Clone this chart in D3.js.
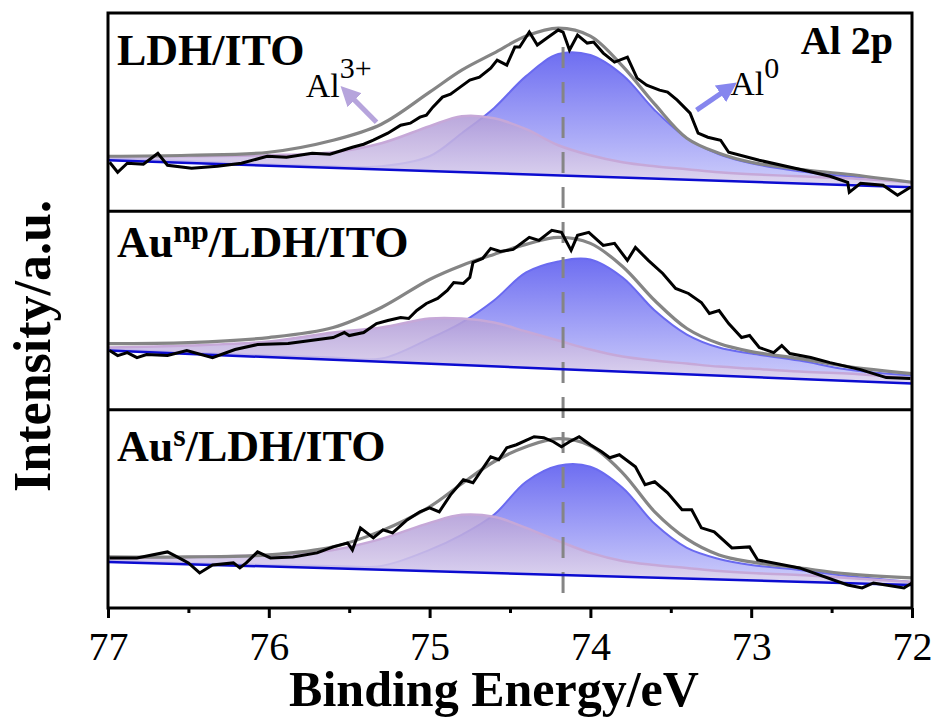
<!DOCTYPE html>
<html>
<head>
<meta charset="utf-8">
<script src="https://cdn.jsdelivr.net/npm/d3@7"></script>
<style>
  body { margin: 0; background: #fff; }
  svg { display: block; font-family: "Liberation Serif", "Times New Roman", serif; }
</style>
</head>
<body>
<svg id="chart" width="937" height="721"></svg>
<script>
var fitEnergy = [77, 76.5, 76, 75.6, 75.3, 75.0, 74.8, 74.6, 74.4, 74.2, 74.0, 73.8, 73.6, 73.4, 73.2, 73.0, 72.7, 72.4, 72];

// LDH/ITO
var rawTop = [[76.99, 49], [76.94, 39], [76.88, 48], [76.78, 47], [76.69, 58], [76.63, 46], [76.48, 43], [76.32, 45],
  [76.17, 48], [76.01, 55], [75.89, 54], [75.73, 58], [75.62, 57], [75.54, 61], [75.48, 64], [75.41, 67], [75.35, 71],
  [75.26, 78], [75.18, 86], [75.12, 88], [75.06, 94], [75.02, 96], [74.98, 104], [74.92, 114], [74.87, 117], [74.81, 124],
  [74.75, 131], [74.69, 134], [74.62, 143], [74.58, 151], [74.52, 146], [74.47, 164], [74.44, 164], [74.38, 179],
  [74.33, 166], [74.27, 173], [74.20, 181], [74.17, 179], [74.13, 161], [74.08, 176], [74.02, 168], [73.98, 169],
  [73.92, 158], [73.85, 149], [73.77, 154], [73.71, 133], [73.65, 126], [73.57, 121], [73.52, 119], [73.46, 111],
  [73.38, 98], [73.33, 78], [73.27, 74], [73.19, 71], [73.14, 59], [72.95, 51], [72.70, 42], [72.51, 35], [72.40, 29],
  [72.39, 19], [72.32, 28], [72.18, 26], [72.09, 16], [72.01, 24]];
var envTop = [55, 56, 59, 71, 87, 119, 141, 158, 175, 183, 175, 145, 107, 73, 58, 49, 42, 37, 29];
var al3Top = [55, 55, 56, 59, 68, 85, 95, 93, 82, 66, 56, 49, 45, 42, 39, 37, 35, 33, 29];
var al0Top = [53, 50, 47, 45, 45, 55, 78, 103, 135, 157, 156, 136, 101, 73, 57, 48, 40, 35, 29];
var bgTop = [51, 24];

// Au(np)/LDH/ITO
var rawMid = [[76.99, 59], [76.94, 54], [76.88, 57], [76.82, 52], [76.76, 55], [76.63, 54], [76.51, 59], [76.35, 52],
  [76.21, 60], [76.07, 65], [75.88, 66], [75.74, 69], [75.60, 72], [75.53, 77], [75.50, 74], [75.41, 77], [75.33, 86],
  [75.26, 89], [75.18, 92], [75.13, 91], [75.08, 99], [75.02, 106], [74.95, 111], [74.89, 119], [74.85, 127],
  [74.79, 126], [74.75, 132], [74.73, 147], [74.67, 151], [74.62, 161], [74.56, 158], [74.48, 160], [74.38, 172],
  [74.32, 169], [74.24, 179], [74.18, 177], [74.12, 159], [74.08, 174], [74.01, 177], [73.92, 164], [73.85, 166],
  [73.77, 149], [73.72, 162], [73.64, 149], [73.55, 136], [73.47, 121], [73.39, 116], [73.31, 107], [73.26, 96],
  [73.20, 99], [73.14, 86], [73.06, 72], [73.01, 74], [72.95, 62], [72.86, 57], [72.81, 64], [72.76, 56], [72.63, 52],
  [72.51, 47], [72.32, 40], [72.16, 32], [72.01, 31]];
var envMid = [66, 67, 72, 82, 102, 130, 144, 155, 165, 172, 166, 143, 109, 81, 66, 58, 51, 43, 36];
var al3Mid = [62, 64, 68, 77, 82, 91, 91, 87, 78, 69, 60, 53, 49, 46, 43, 41, 38, 36, 31];
var al0Mid = [60, 57, 54, 52, 51, 71, 87, 109, 137, 148, 150, 132, 99, 75, 62, 56, 49, 40, 34];
var bgMid = [59, 26];

// Au(s)/LDH/ITO
var rawBot = [[76.99, 50], [76.82, 50], [76.63, 56], [76.57, 51], [76.50, 45], [76.43, 35], [76.35, 43], [76.22, 45],
  [76.18, 40], [76.14, 45], [76.07, 56], [75.99, 50], [75.85, 51], [75.70, 55], [75.60, 61], [75.51, 65], [75.48, 58],
  [75.43, 80], [75.35, 70], [75.29, 78], [75.23, 75], [75.14, 88], [75.06, 96], [75.00, 100], [74.94, 96], [74.87, 113],
  [74.79, 128], [74.73, 125], [74.62, 151], [74.57, 148], [74.52, 160], [74.46, 163], [74.35, 171], [74.29, 170],
  [74.23, 166], [74.18, 161], [74.13, 166], [74.07, 171], [74.00, 163], [73.93, 156], [73.88, 150], [73.82, 153],
  [73.72, 141], [73.66, 123], [73.60, 126], [73.52, 115], [73.43, 98], [73.37, 98], [73.31, 80], [73.23, 76],
  [73.12, 60], [73.01, 61], [72.96, 48], [72.70, 40], [72.40, 23], [72.31, 20], [72.24, 25], [72.05, 20], [72.0, 25]];
var envBot = [51, 51, 53, 61, 77, 101, 124, 146, 161, 169, 162, 135, 96, 69, 53, 46, 40, 34, 30];
var al3Bot = [50, 51, 53, 58, 69, 85, 93, 91, 80, 67, 55, 47, 43, 40, 37, 35, 33, 30, 26];
var al0Bot = [47, 45, 43, 42, 42, 58, 73, 93, 126, 142, 141, 120, 84, 60, 49, 43, 38, 32, 26];
var bgBot = [46, 23];

var majorTicks = [77, 76, 75, 74, 73, 72];
var minorTicks = [76.5, 75.5, 74.5, 73.5, 72.5];
var peakLine = 74.17;      // dashed marker (eV)
var peakLineTop = 164;     // where it starts, in top-panel units

// annotation anchors in top-panel units [eV, intensity]
var al3Label = [75.77, 114], al3Arrow = [[75.33, 89], [75.51, 118]];
var al0Label = [73.13, 116], al0Arrow = [[73.34, 101], [73.14, 123]];

var panels = [
  { label: [["LDH/ITO", false]], raw: rawTop, env: envTop, al3: al3Top, al0: al0Top, bg: bgTop },
  { label: [["Au", false], ["np", true], ["/LDH/ITO", false]], raw: rawMid, env: envMid, al3: al3Mid, al0: al0Mid, bg: bgMid },
  { label: [["Au", false], ["s", true], ["/LDH/ITO", false]], raw: rawBot, env: envBot, al3: al3Bot, al0: al0Bot, bg: bgBot }
];
var labelDy = [52, 46, 51];

var svg = d3.select("#chart"),
  plotLeft = 108, plotRight = 912, plotTop = 13, plotBottom = 608,
  panelH = (plotBottom - plotTop) / 3;

var x = d3.scaleLinear().domain([77, 72]).range([plotLeft, plotRight]);

var defs = svg.append("defs");
function grad(id, c1, c2) {
  var gr = defs.append("linearGradient").attr("id", id)
    .attr("x1", 0).attr("y1", 0).attr("x2", 0).attr("y2", 1);
  gr.append("stop").attr("offset", "0%").attr("stop-color", c1);
  gr.append("stop").attr("offset", "100%").attr("stop-color", c2);
}
grad("al0Grad", "#6e6ef1", "#cfcffb");
grad("al3Grad", "#b19cd8", "#e3daf0");

defs.append("marker").attr("id", "headPurple")
  .attr("viewBox", "0 0 10 10").attr("refX", 5).attr("refY", 5)
  .attr("markerWidth", 4).attr("markerHeight", 4).attr("orient", "auto")
  .append("path").attr("d", "M0,0L10,5L0,10z").attr("fill", "#b6a4dc");
defs.append("marker").attr("id", "headBlue")
  .attr("viewBox", "0 0 10 10").attr("refX", 5).attr("refY", 5)
  .attr("markerWidth", 4).attr("markerHeight", 4).attr("orient", "auto")
  .append("path").attr("d", "M0,0L10,5L0,10z").attr("fill", "#8686ee");

var fillLayer = svg.append("g"),
  dashLayer = svg.append("g"),
  lineLayer = svg.append("g");

var yScales = [];

panels.forEach(function (p, i) {
  var base = plotTop + panelH * (i + 1);
  var y = d3.scaleLinear().domain([0, 198]).range([base, base - panelH]);
  yScales.push(y);
  var bgAt = d3.scaleLinear().domain([77, 72]).range(p.bg);

  defs.append("clipPath").attr("id", "clip" + i)
    .append("rect").attr("x", plotLeft).attr("y", base - panelH)
    .attr("width", plotRight - plotLeft).attr("height", panelH);

  var pts = fitEnergy.map(function (e, k) {
    return { e: e, env: p.env[k], al3: p.al3[k], al0: p.al0[k] };
  });

  function area(key) {
    return d3.area().curve(d3.curveCatmullRom)
      .x(function (d) { return x(d.e); })
      .y0(function (d) { return y(bgAt(d.e)); })
      .y1(function (d) { return y(d[key]); });
  }
  function line(key) {
    return d3.line().curve(d3.curveCatmullRom)
      .x(function (d) { return x(d.e); })
      .y(function (d) { return y(d[key]); });
  }

  var fg = fillLayer.append("g").attr("clip-path", "url(#clip" + i + ")");
  fg.append("path").datum(pts).attr("d", area("al0")).attr("fill", "url(#al0Grad)");
  fg.append("path").datum(pts).attr("d", line("al0"))
    .attr("fill", "none").attr("stroke", "#6a6af0").attr("stroke-width", 2);
  fg.append("path").datum(pts).attr("d", area("al3"))
    .attr("fill", "url(#al3Grad)").attr("opacity", 0.88);
  fg.append("path").datum(pts).attr("d", line("al3"))
    .attr("fill", "none").attr("stroke", "#c6a8d8").attr("stroke-width", 2.5);

  var lg = lineLayer.append("g").attr("clip-path", "url(#clip" + i + ")");
  lg.append("line")
    .attr("x1", x(77)).attr("y1", y(p.bg[0]))
    .attr("x2", x(72)).attr("y2", y(p.bg[1]))
    .attr("stroke", "#0c0cd0").attr("stroke-width", 2.5);
  lg.append("path").datum(pts).attr("d", line("env"))
    .attr("fill", "none").attr("stroke", "#858585").attr("stroke-width", 3.2);
  lg.append("path").datum(p.raw)
    .attr("d", d3.line().x(function (d) { return x(d[0]); }).y(function (d) { return y(d[1]); }))
    .attr("fill", "none").attr("stroke", "#000").attr("stroke-width", 3)
    .attr("stroke-linejoin", "miter");

  // panel label
  var t = svg.append("text").attr("x", 117).attr("y", base - panelH + labelDy[i])
    .style("font-weight", "bold").style("font-size", "44px");
  p.label.forEach(function (part, k) {
    if (part[1]) {
      t.append("tspan").attr("dy", -15).style("font-size", "32px").text(part[0]);
    } else {
      var ts = t.append("tspan").text(part[0]);
      if (k > 0) ts.attr("dy", 15);
    }
  });
});

// dashed peak marker
dashLayer.append("line")
  .attr("x1", x(peakLine)).attr("x2", x(peakLine))
  .attr("y1", yScales[0](peakLineTop)).attr("y2", plotBottom)
  .attr("stroke", "#858585").attr("stroke-width", 3)
  .attr("stroke-dasharray", "21,14");

// frame and separators
svg.append("rect").attr("x", plotLeft).attr("y", plotTop)
  .attr("width", plotRight - plotLeft).attr("height", plotBottom - plotTop)
  .attr("fill", "none").attr("stroke", "#000").attr("stroke-width", 3);
[1, 2].forEach(function (k) {
  svg.append("line").attr("x1", plotLeft).attr("x2", plotRight)
    .attr("y1", plotTop + panelH * k).attr("y2", plotTop + panelH * k)
    .attr("stroke", "#000").attr("stroke-width", 3);
});

// x axis
var axMajor = svg.append("g").attr("transform", "translate(0," + plotBottom + ")")
  .call(d3.axisBottom(x).tickValues(majorTicks).tickSize(10).tickFormat(d3.format("d")));
axMajor.select(".domain").remove();
axMajor.selectAll("line").attr("stroke-width", 3);
axMajor.selectAll("text").attr("dy", 0).attr("y", 52)
  .style("font-size", "40px").style("font-family", "Liberation Serif").attr("fill", "#000");

var axMinor = svg.append("g").attr("transform", "translate(0," + plotBottom + ")")
  .call(d3.axisBottom(x).tickValues(minorTicks).tickSize(5).tickFormat(""));
axMinor.select(".domain").remove();
axMinor.selectAll("line").attr("stroke-width", 3);

// axis titles
svg.append("text").attr("x", 494).attr("y", 706).attr("text-anchor", "middle")
  .style("font-weight", "bold").style("font-size", "50px").text("Binding Energy/eV");
svg.append("text").attr("text-anchor", "middle")
  .attr("transform", "translate(50,346)rotate(-90)")
  .style("font-weight", "bold").style("font-size", "52px").text("Intensity/a.u.");

// Al 2p
svg.append("text").attr("x", 893).attr("y", 54).attr("text-anchor", "end")
  .style("font-weight", "bold").style("font-size", "40px").text("Al 2p");

// component annotations
var yT = yScales[0];
var a3 = svg.append("text").attr("x", x(al3Label[0])).attr("y", yT(al3Label[1]))
  .style("font-size", "34px");
a3.append("tspan").text("Al");
a3.append("tspan").attr("dy", -19).style("font-size", "30px").text("3+");
svg.append("line")
  .attr("x1", x(al3Arrow[0][0])).attr("y1", yT(al3Arrow[0][1]))
  .attr("x2", x(al3Arrow[1][0])).attr("y2", yT(al3Arrow[1][1]))
  .attr("stroke", "#b6a4dc").attr("stroke-width", 5).attr("marker-end", "url(#headPurple)");

var a0 = svg.append("text").attr("x", x(al0Label[0])).attr("y", yT(al0Label[1]))
  .style("font-size", "34px");
a0.append("tspan").text("Al");
a0.append("tspan").attr("dy", -17).style("font-size", "30px").text("0");
svg.append("line")
  .attr("x1", x(al0Arrow[0][0])).attr("y1", yT(al0Arrow[0][1]))
  .attr("x2", x(al0Arrow[1][0])).attr("y2", yT(al0Arrow[1][1]))
  .attr("stroke", "#8686ee").attr("stroke-width", 5).attr("marker-end", "url(#headBlue)");
</script>
</body>
</html>
